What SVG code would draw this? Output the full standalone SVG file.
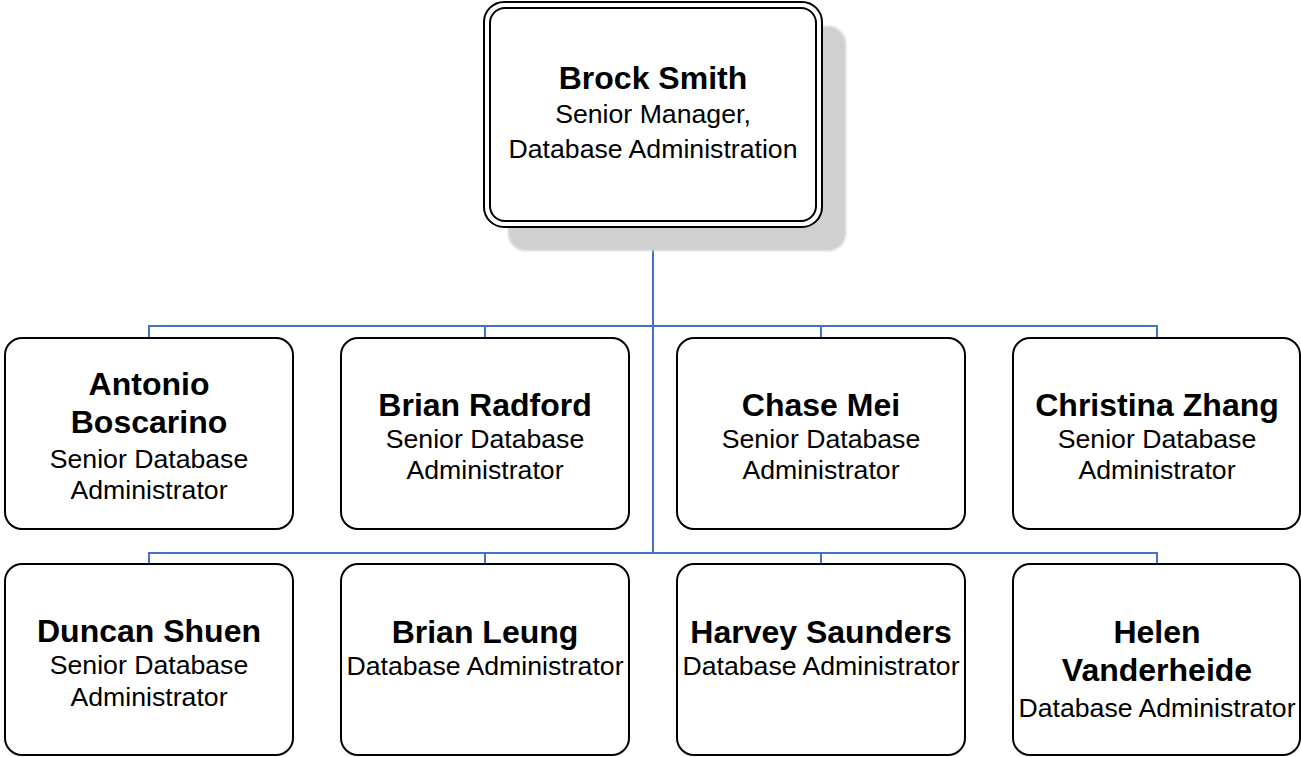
<svg xmlns="http://www.w3.org/2000/svg" width="1301" height="757" viewBox="0 0 1301 757">
  <style>
    .box { fill: #ffffff; stroke: #000000; stroke-width: 2; }
    .conn { fill: none; stroke: #4472C4; stroke-width: 2; }
    text { font-family: "Liberation Sans", Arial, sans-serif; text-anchor: middle; fill: #000000; }
    .name { font-size: 32px; font-weight: bold; }
    .title { font-size: 26.67px; }
  </style>
  <defs>
    <filter id="soft" x="-10%" y="-10%" width="120%" height="120%">
      <feGaussianBlur stdDeviation="1"/>
    </filter>
  </defs>
  <rect width="1301" height="757" fill="#ffffff"/>

  <g id="connectors">
    <path class="conn" d="M653,227 V553"/>
    <path class="conn" d="M149,338 V326 H1157 V338"/>
    <path class="conn" d="M485,326 V338"/>
    <path class="conn" d="M821,326 V338"/>
    <path class="conn" d="M149,564 V553 H1157 V564"/>
    <path class="conn" d="M485,553 V564"/>
    <path class="conn" d="M821,553 V564"/>
  </g>

  <g id="brock-smith">
    <rect x="508" y="26" width="338" height="225" rx="18" fill="#d0d0d0" filter="url(#soft)"/>
    <rect class="box" x="484" y="2" width="338" height="225" rx="20"/>
    <rect class="box" x="490" y="8" width="326" height="213" rx="15"/>
    <text class="name" x="653" y="89">Brock Smith</text>
    <text class="title" x="653" y="123">Senior Manager,</text>
    <text class="title" x="653" y="158">Database Administration</text>
  </g>

  <g id="antonio-boscarino">
    <rect class="box" x="5" y="338" width="288" height="191" rx="17"/>
    <text class="name" x="149" y="395">Antonio</text>
    <text class="name" x="149" y="433">Boscarino</text>
    <text class="title" x="149" y="468">Senior Database</text>
    <text class="title" x="149" y="499">Administrator</text>
  </g>

  <g id="brian-radford">
    <rect class="box" x="341" y="338" width="288" height="191" rx="17"/>
    <text class="name" x="485" y="416">Brian Radford</text>
    <text class="title" x="485" y="448">Senior Database</text>
    <text class="title" x="485" y="479">Administrator</text>
  </g>

  <g id="chase-mei">
    <rect class="box" x="677" y="338" width="288" height="191" rx="17"/>
    <text class="name" x="821" y="416">Chase Mei</text>
    <text class="title" x="821" y="448">Senior Database</text>
    <text class="title" x="821" y="479">Administrator</text>
  </g>

  <g id="christina-zhang">
    <rect class="box" x="1013" y="338" width="287" height="191" rx="17"/>
    <text class="name" x="1157" y="416">Christina Zhang</text>
    <text class="title" x="1157" y="448">Senior Database</text>
    <text class="title" x="1157" y="479">Administrator</text>
  </g>

  <g id="duncan-shuen">
    <rect class="box" x="5" y="564" width="288" height="191" rx="17"/>
    <text class="name" x="149" y="642">Duncan Shuen</text>
    <text class="title" x="149" y="674">Senior Database</text>
    <text class="title" x="149" y="706">Administrator</text>
  </g>

  <g id="brian-leung">
    <rect class="box" x="341" y="564" width="288" height="191" rx="17"/>
    <text class="name" x="485" y="643">Brian Leung</text>
    <text class="title" x="485" y="675">Database Administrator</text>
  </g>

  <g id="harvey-saunders">
    <rect class="box" x="677" y="564" width="288" height="191" rx="17"/>
    <text class="name" x="821" y="643">Harvey Saunders</text>
    <text class="title" x="821" y="675">Database Administrator</text>
  </g>

  <g id="helen-vanderheide">
    <rect class="box" x="1013" y="564" width="287" height="191" rx="17"/>
    <text class="name" x="1157" y="643">Helen</text>
    <text class="name" x="1157" y="681">Vanderheide</text>
    <text class="title" x="1157" y="717">Database Administrator</text>
  </g>
</svg>
